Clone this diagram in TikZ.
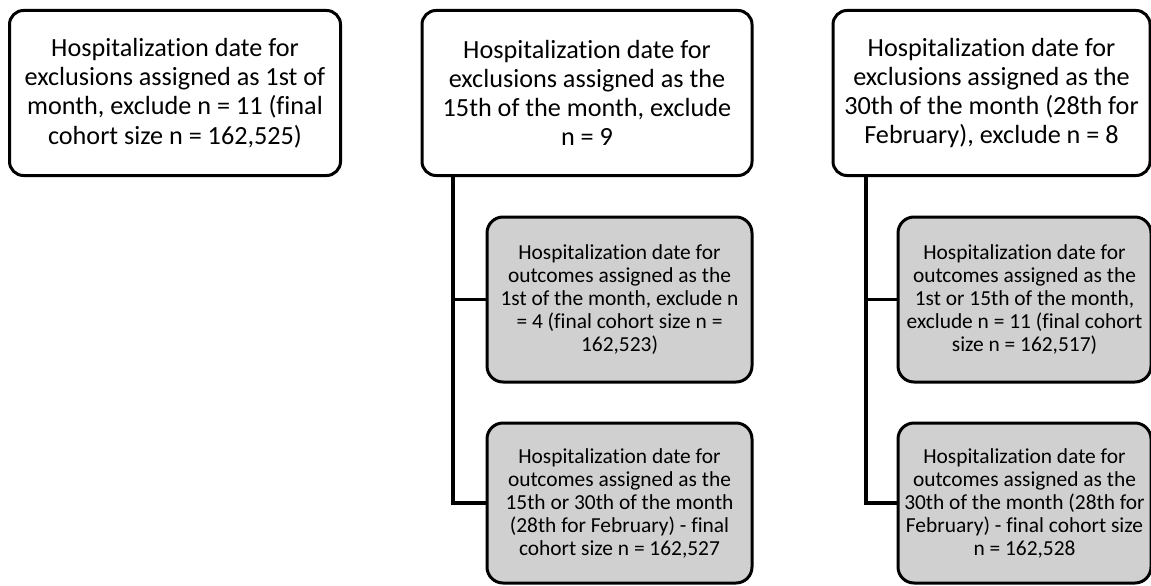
\documentclass[tikz,border=0pt]{standalone}
\usepackage{fontspec}
\setmainfont{Carlito}[Ligatures={NoCommon}]
\begin{document}
\begin{tikzpicture}[x=1pt,y=-1pt,
  bigbox/.style={draw=black, line width=3pt, rounded corners=14pt, fill=white,
    align=center, inner sep=0pt, text=black,
    font=\fontsize{26.2}{29.2}\selectfont},
  graybox/.style={draw=black, line width=3pt, rounded corners=16pt, fill=black!18.5,
    align=center, inner sep=0pt, text=black,
    font=\fontsize{21.4}{23}\selectfont},
  link/.style={draw=black, line width=3.2pt}]
\useasboundingbox (0,0) rectangle (1151,586);
\clip (0,0) rectangle (1151,586);
\node[bigbox, minimum width=331pt, minimum height=165pt] (b1) at (175,93)
  {Hospitalization date for\\exclusions assigned as 1st of\\month, exclude n = 11 (final\\cohort size n = 162,525)};
\node[bigbox, minimum width=330pt, minimum height=165pt] (b2) at (587,93)
  {Hospitalization date for\\exclusions assigned as the\\15th of the month, exclude\\n = 9};
\node[bigbox, minimum width=317pt, minimum height=165pt] (b3) at (991.5,93)
  {Hospitalization date for\\exclusions assigned as the\\30th of the month (28th for\\February), exclude n = 8};
\node[graybox, minimum width=265pt, minimum height=165pt] (g1) at (619.5,299.5)
  {Hospitalization date for\\outcomes assigned as the\\1st of the month, exclude n\\= 4 (final cohort size n =\\162,523)};
\node[graybox, minimum width=265pt, minimum height=160pt] (g2) at (619.5,503)
  {Hospitalization date for\\outcomes assigned as the\\15th or 30th of the month\\(28th for February) - final\\cohort size n = 162,527};
\node[graybox, minimum width=253pt, minimum height=165pt] (g3) at (1024.5,299.5)
  {Hospitalization date for\\outcomes assigned as the\\1st or 15th of the month,\\exclude n = 11 (final cohort\\size n = 162,517)};
\node[graybox, minimum width=253pt, minimum height=160pt] (g4) at (1024.5,503)
  {Hospitalization date for\\outcomes assigned as the\\30th of the month (28th for\\February) - final cohort size\\n = 162,528};
\coordinate (t2) at (453,0);
\coordinate (t3) at (866,0);
\draw[link] (t2 |- b2.south) |- (g2.west);
\draw[link] (t2 |- g1.west) -- (g1.west);
\draw[link] (t3 |- b3.south) |- (g4.west);
\draw[link] (t3 |- g3.west) -- (g3.west);
\end{tikzpicture}
\end{document}
